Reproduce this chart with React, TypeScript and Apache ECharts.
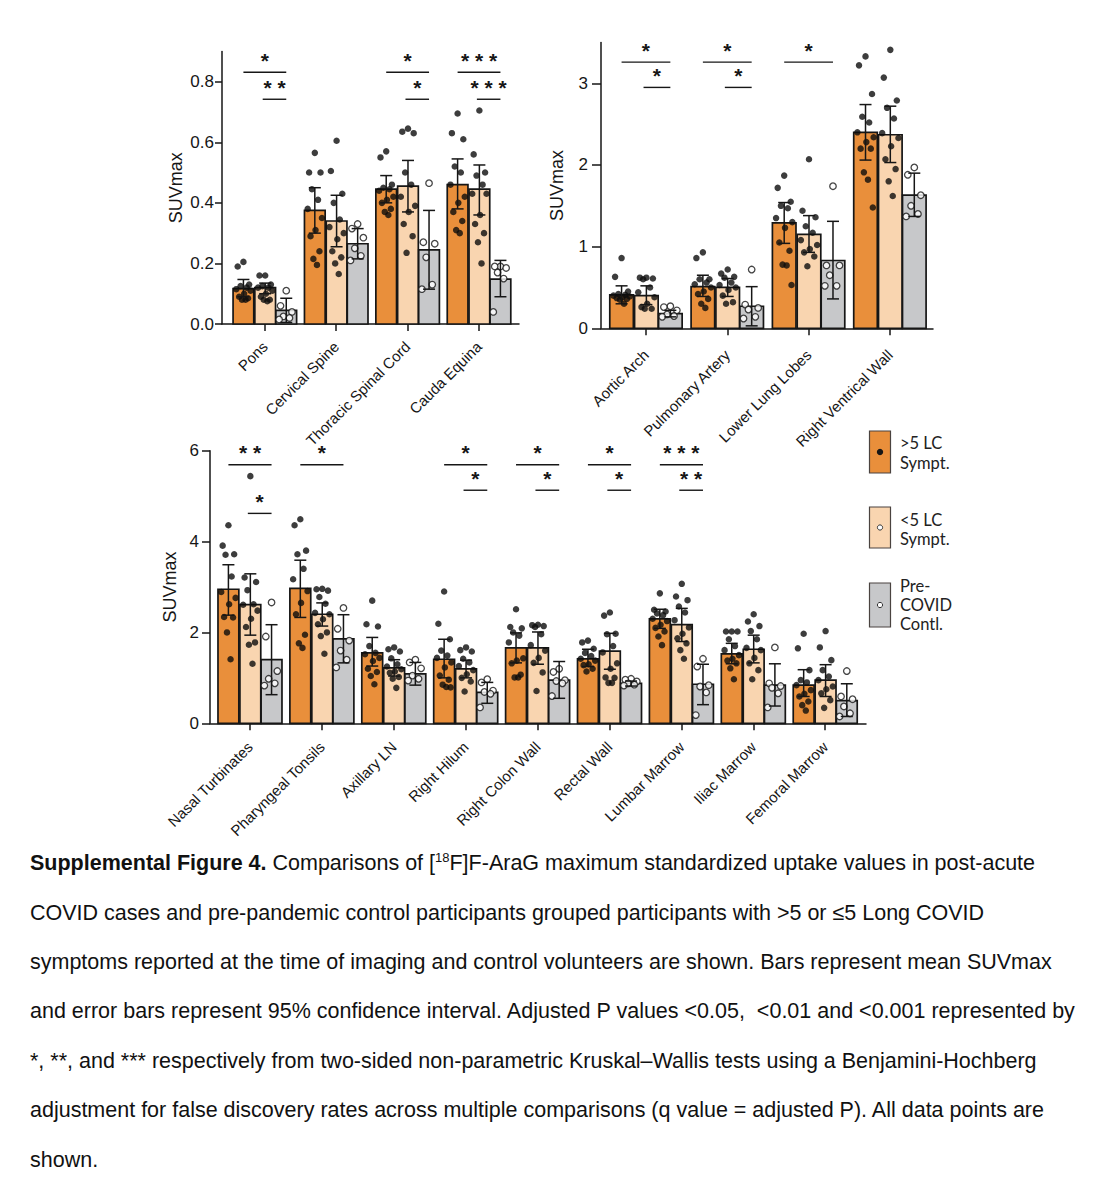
import React, { useEffect, useRef } from "react";
import * as echarts from "echarts";

const FONT = "'Liberation Sans', Arial, Helvetica, sans-serif";
const LEG_FONT = "Lato, 'Open Sans', sans-serif";
const INK = "#161616";
const COLORS = ["#E98F3B", "#F9D5B0", "#C7C8CA"];
const OFFSETS = [-0.3, 0.005, 0.3];
const BAR_W = 0.29;
const JITTER = [0, -0.08, 0.08, -0.04, 0.045, -0.1, 0.1, 0.01, -0.06, 0.065, -0.02, 0.03, 0.09];

// ---------- Panel A ----------
const catsA = ["Pons", "Cervical Spine", "Thoracic Spinal Cord", "Cauda Equina"];
const ticksA = [0, 0.2, 0.4, 0.6, 0.8];
const hiMeanA = [0.117, 0.375, 0.445, 0.46];
const hiLowA = [0.09, 0.30, 0.40, 0.38];
const hiHighA = [0.147, 0.45, 0.49, 0.545];
const loMeanA = [0.12, 0.34, 0.455, 0.445];
const loLowA = [0.10, 0.255, 0.37, 0.36];
const loHighA = [0.135, 0.425, 0.54, 0.525];
const ctMeanA = [0.045, 0.265, 0.245, 0.148];
const ctLowA = [0.005, 0.215, 0.115, 0.09];
const ctHighA = [0.085, 0.315, 0.375, 0.21];
const hiPtsA = [
  [0.205, 0.19, 0.13, 0.125, 0.12, 0.115, 0.11, 0.10, 0.09, 0.085, 0.08, 0.08],
  [0.565, 0.50, 0.50, 0.445, 0.41, 0.38, 0.35, 0.31, 0.29, 0.24, 0.215, 0.195],
  [0.57, 0.55, 0.46, 0.45, 0.445, 0.44, 0.42, 0.41, 0.40, 0.38, 0.37, 0.36],
  [0.695, 0.63, 0.61, 0.52, 0.50, 0.46, 0.42, 0.40, 0.37, 0.34, 0.31, 0.30],
];
const loPtsA = [
  [0.16, 0.16, 0.13, 0.125, 0.12, 0.12, 0.11, 0.10, 0.09, 0.08, 0.08, 0.075],
  [0.605, 0.505, 0.43, 0.40, 0.345, 0.32, 0.30, 0.28, 0.24, 0.22, 0.20, 0.165],
  [0.645, 0.635, 0.63, 0.50, 0.46, 0.42, 0.39, 0.37, 0.33, 0.29, 0.235],
  [0.705, 0.56, 0.50, 0.49, 0.46, 0.43, 0.43, 0.36, 0.33, 0.30, 0.27, 0.20],
];
const ctPtsA = [
  [0.11, 0.06, 0.04, 0.025, 0.02, 0.015],
  [0.33, 0.315, 0.285, 0.25, 0.225, 0.21],
  [0.465, 0.27, 0.265, 0.22, 0.13, 0.115],
  [0.19, 0.19, 0.185, 0.17, 0.15, 0.04],
];
// [category, from offset, to offset, y]
const bracketsA = [
  [0, -0.3, 0.3, 0.831], [0, -0.03, 0.3, 0.742],
  [2, -0.3, 0.3, 0.831], [2, -0.03, 0.3, 0.742],
  [3, -0.3, 0.3, 0.831], [3, -0.03, 0.3, 0.742],
];
const starsA = ["*", "* *", "*", "*", "* * *", "* * *"];

// ---------- Panel B ----------
const catsB = ["Aortic Arch", "Pulmonary Artery", "Lower Lung Lobes", "Right Ventrical Wall"];
const ticksB = [0, 1, 2, 3];
const hiMeanB = [0.41, 0.51, 1.29, 2.40];
const hiLowB = [0.30, 0.39, 1.04, 2.06];
const hiHighB = [0.52, 0.65, 1.54, 2.74];
const loMeanB = [0.40, 0.50, 1.15, 2.37];
const loLowB = [0.29, 0.39, 0.93, 2.03];
const loHighB = [0.52, 0.61, 1.38, 2.72];
const ctMeanB = [0.18, 0.27, 0.83, 1.63];
const ctLowB = [0.14, 0.03, 0.36, 1.37];
const ctHighB = [0.22, 0.51, 1.31, 1.90];
const hiPtsB = [
  [0.86, 0.63, 0.45, 0.42, 0.41, 0.40, 0.39, 0.38, 0.37, 0.36, 0.35, 0.30],
  [0.93, 0.86, 0.60, 0.60, 0.56, 0.54, 0.50, 0.45, 0.42, 0.36, 0.30, 0.25],
  [1.87, 1.72, 1.55, 1.50, 1.47, 1.35, 1.30, 1.23, 1.05, 0.95, 0.78, 0.77, 0.53],
  [3.33, 3.22, 2.87, 2.59, 2.52, 2.40, 2.34, 2.28, 2.20, 2.20, 1.91, 1.82, 1.48],
];
const loPtsB = [
  [0.62, 0.62, 0.61, 0.60, 0.50, 0.44, 0.38, 0.30, 0.26, 0.24, 0.24],
  [0.72, 0.67, 0.63, 0.62, 0.56, 0.53, 0.50, 0.47, 0.40, 0.32, 0.30],
  [2.07, 1.44, 1.36, 1.25, 1.17, 1.08, 1.02, 0.97, 0.93, 0.88, 0.76],
  [3.41, 3.07, 2.79, 2.70, 2.57, 2.39, 2.33, 2.23, 2.07, 1.95, 1.80, 1.62],
];
const ctPtsB = [
  [0.27, 0.26, 0.22, 0.17, 0.15, 0.14],
  [0.72, 0.29, 0.25, 0.23, 0.14, 0.12],
  [1.74, 0.77, 0.77, 0.65, 0.52, 0.52],
  [1.97, 1.88, 1.63, 1.50, 1.40, 1.37],
];
const bracketsB = [
  [0, -0.3, 0.3, 3.26], [0, -0.03, 0.3, 2.95],
  [1, -0.3, 0.3, 3.26], [1, -0.03, 0.3, 2.95],
  [2, -0.3, 0.3, 3.26],
];
const starsB = ["*", "*", "*", "*", "*"];

// ---------- Panel C ----------
const catsC = [
  "Nasal Turbinates", "Pharyngeal Tonsils", "Axillary LN", "Right Hilum", "Right Colon Wall",
  "Rectal Wall", "Lumbar Marrow", "Iliac Marrow", "Femoral Marrow",
];
const ticksC = [0, 2, 4, 6];
const hiMeanC = [2.95, 2.97, 1.55, 1.41, 1.66, 1.42, 2.30, 1.53, 0.84];
const hiLowC = [2.38, 2.33, 1.26, 1.00, 1.33, 1.25, 2.09, 1.31, 0.59];
const hiHighC = [3.49, 3.59, 1.89, 1.85, 1.99, 1.63, 2.51, 1.76, 1.18];
const loMeanC = [2.61, 2.40, 1.22, 1.20, 1.66, 1.59, 2.17, 1.63, 0.95];
const loLowC = [1.94, 2.14, 1.04, 1.00, 1.30, 1.19, 1.80, 1.33, 0.59];
const loHighC = [3.29, 2.65, 1.40, 1.39, 2.01, 1.98, 2.53, 1.94, 1.29];
const ctMeanC = [1.40, 1.86, 1.09, 0.68, 0.95, 0.88, 0.86, 0.84, 0.50];
const ctLowC = [0.63, 1.33, 0.84, 0.44, 0.55, 0.82, 0.41, 0.38, 0.15];
const ctHighC = [2.17, 2.39, 1.34, 0.90, 1.36, 0.93, 1.30, 1.31, 0.87];
const hiPtsC = [
  [4.36, 3.91, 3.72, 3.71, 3.23, 2.89, 2.76, 2.62, 2.34, 2.33, 2.00, 1.41],
  [4.49, 4.36, 3.80, 3.72, 3.40, 3.17, 2.91, 2.65, 2.40, 1.95, 1.76, 1.66],
  [2.70, 2.18, 2.13, 1.70, 1.55, 1.52, 1.44, 1.37, 1.20, 1.13, 1.04, 0.86],
  [2.90, 2.19, 1.85, 1.60, 1.49, 1.44, 1.34, 1.23, 1.05, 0.96, 0.85, 0.80, 0.79],
  [2.51, 2.12, 2.09, 2.00, 1.93, 1.78, 1.43, 1.38, 1.32, 1.07, 1.01, 1.01],
  [1.82, 1.78, 1.64, 1.55, 1.48, 1.42, 1.38, 1.30, 1.28, 1.20, 1.14],
  [2.86, 2.50, 2.46, 2.42, 2.38, 2.30, 2.25, 2.17, 2.10, 2.02, 1.91, 1.72],
  [2.02, 2.02, 2.02, 1.85, 1.70, 1.61, 1.50, 1.42, 1.38, 1.32, 1.21, 0.97],
  [1.97, 1.65, 1.17, 0.95, 0.90, 0.84, 0.73, 0.65, 0.59, 0.48, 0.40, 0.28],
];
const loPtsC = [
  [5.44, 3.21, 3.11, 2.93, 2.62, 2.61, 2.48, 2.30, 2.12, 1.78, 1.73, 1.31],
  [2.96, 2.95, 2.92, 2.78, 2.63, 2.43, 2.40, 2.29, 2.18, 2.00, 1.92, 1.53],
  [1.67, 1.63, 1.58, 1.43, 1.30, 1.25, 1.19, 1.14, 1.11, 1.02, 0.98, 0.78],
  [1.67, 1.61, 1.58, 1.42, 1.34, 1.26, 1.17, 1.08, 1.00, 0.92, 0.70],
  [2.17, 2.16, 2.14, 2.12, 1.96, 1.72, 1.60, 1.44, 1.33, 1.12, 0.71],
  [2.44, 2.37, 1.97, 1.96, 1.70, 1.56, 1.32, 1.20, 1.01, 1.00, 0.89, 0.89],
  [3.07, 2.79, 2.71, 2.57, 2.44, 2.27, 2.11, 1.97, 1.87, 1.76, 1.61, 1.42],
  [2.40, 2.24, 2.14, 2.03, 1.85, 1.66, 1.61, 1.44, 1.32, 1.17, 0.97],
  [2.03, 1.67, 1.39, 1.17, 1.03, 0.95, 0.81, 0.75, 0.66, 0.51, 0.34],
];
const ctPtsC = [
  [2.66, 1.91, 1.15, 0.98, 0.88, 0.83],
  [2.54, 2.08, 1.82, 1.60, 1.40, 1.23],
  [1.40, 1.34, 1.21, 1.05, 0.98, 0.94],
  [0.97, 0.90, 0.72, 0.69, 0.65, 0.35],
  [1.20, 1.13, 0.95, 0.93, 0.88, 0.60],
  [0.98, 0.96, 0.92, 0.88, 0.85, 0.83],
  [1.42, 1.25, 0.84, 0.81, 0.68, 0.18],
  [1.67, 0.88, 0.82, 0.78, 0.66, 0.35],
  [1.15, 0.59, 0.53, 0.37, 0.22, 0.15],
];
const bracketsC = [
  [0, -0.3, 0.3, 5.69], [0, -0.03, 0.3, 4.62],
  [1, -0.3, 0.3, 5.69],
  [3, -0.3, 0.3, 5.69], [3, -0.03, 0.3, 5.13],
  [4, -0.3, 0.3, 5.69], [4, -0.03, 0.3, 5.13],
  [5, -0.3, 0.3, 5.69], [5, -0.03, 0.3, 5.13],
  [6, -0.3, 0.3, 5.69], [6, -0.03, 0.3, 5.13],
];
const starsC = ["* *", "*", "*", "*", "*", "*", "*", "*", "*", "* * *", "* *"];

// ---------- Legend & caption ----------
const legendLines = [[">5 LC", "Sympt."], ["<5 LC", "Sympt."], ["Pre-", "COVID", "Contl."]];
const captionLines = [
  "{b|Supplemental Figure 4.} Comparisons of [{s|18}F]F-AraG maximum standardized uptake values in post-acute",
  "COVID cases and pre-pandemic control participants grouped participants with >5 or ≤5 Long COVID",
  "symptoms reported at the time of imaging and control volunteers are shown. Bars represent mean SUVmax",
  "and error bars represent 95% confidence interval. Adjusted P values <0.05,  <0.01 and <0.001 represented by",
  "*, **, and *** respectively from two-sided non-parametric Kruskal–Wallis tests using a Benjamini-Hochberg",
  "adjustment for false discovery rates across multiple comparisons (q value = adjusted P). All data points are",
  "shown.",
];

type Panel = {
  cats: string[];
  means: number[][];
  lows: number[][];
  highs: number[][];
  pts: number[][][];
  brackets: number[][];
  stars: string[];
};

const panels: Panel[] = [
  {
    cats: catsA, means: [hiMeanA, loMeanA, ctMeanA], lows: [hiLowA, loLowA, ctLowA],
    highs: [hiHighA, loHighA, ctHighA], pts: [hiPtsA, loPtsA, ctPtsA], brackets: bracketsA, stars: starsA,
  },
  {
    cats: catsB, means: [hiMeanB, loMeanB, ctMeanB], lows: [hiLowB, loLowB, ctLowB],
    highs: [hiHighB, loHighB, ctHighB], pts: [hiPtsB, loPtsB, ctPtsB], brackets: bracketsB, stars: starsB,
  },
  {
    cats: catsC, means: [hiMeanC, loMeanC, ctMeanC], lows: [hiLowC, loLowC, ctLowC],
    highs: [hiHighC, loHighC, ctHighC], pts: [hiPtsC, loPtsC, ctPtsC], brackets: bracketsC, stars: starsC,
  },
];

const gridDefs = [
  { left: 222, top: 51.4, width: 297, height: 272.6 },
  { left: 601, top: 42.5, width: 332, height: 285.8 },
  { left: 210, top: 450.7, width: 656, height: 272.6 },
];
const xRanges = [[-0.6, 3.56], [-0.553, 3.53], [-0.556, 8.567]];
const yMax = [0.9, 3.5, 6];
const yTicks = [ticksA, ticksB, ticksC];
const yFmt = [(v: number) => v.toFixed(1), (v: number) => String(v), (v: number) => String(v)];
const yTickLen = [7, 9, 8];
const yLabelMargin = [8, 13, 11];
const yNameGap = [37, 35, 26];
const xLabelMargin = [20, 24, 21];

function buildOption() {
  const lineStyle = { color: INK, width: 1.5 };
  const xAxis: any[] = [];
  const yAxis: any[] = [];
  const series: any[] = [];

  panels.forEach((p, pi) => {
    const catIdx = p.cats.map((_, i) => i);
    xAxis.push({
      type: "value", gridIndex: pi, min: xRanges[pi][0], max: xRanges[pi][1],
      axisLine: { show: true, onZero: false, lineStyle },
      axisTick: { show: true, customValues: catIdx, length: 7, lineStyle },
      axisLabel: {
        show: true, customValues: catIdx, rotate: 45, margin: xLabelMargin[pi],
        formatter: (v: number) => p.cats[Math.round(v)] ?? "",
        fontSize: 15, fontFamily: FONT, color: INK,
      },
      splitLine: { show: false },
    });
    yAxis.push({
      type: "value", gridIndex: pi, min: 0, max: yMax[pi],
      name: "SUVmax", nameLocation: "middle", nameRotate: 90, nameGap: yNameGap[pi],
      nameTextStyle: { fontSize: 18, fontFamily: FONT, color: INK },
      axisLine: { show: true, onZero: false, lineStyle },
      axisTick: { show: true, customValues: yTicks[pi], length: yTickLen[pi], lineStyle },
      axisLabel: {
        show: true, customValues: yTicks[pi], formatter: yFmt[pi],
        fontSize: 17, fontFamily: FONT, color: INK, margin: yLabelMargin[pi],
      },
      splitLine: { show: false },
    });

    for (let g = 0; g < 3; g++) {
      const off = OFFSETS[g];
      const rows = p.cats.map((_, i) => [i, p.means[g][i], p.lows[g][i], p.highs[g][i]]);
      // bars
      series.push({
        type: "custom", xAxisIndex: pi, yAxisIndex: pi, z: 2, silent: true,
        data: rows,
        renderItem: (params: any, api: any) => {
          const c = api.value(0);
          const m = api.value(1);
          const a = api.coord([c + off - BAR_W / 2, m]);
          const b = api.coord([c + off + BAR_W / 2, 0]);
          return {
            type: "rect",
            shape: { x: a[0], y: a[1], width: b[0] - a[0], height: b[1] - a[1] },
            style: { fill: COLORS[g], stroke: INK, lineWidth: 1.7 },
          };
        },
      });
      // points
      const pts: number[][] = [];
      p.pts[g].forEach((vals, ci) => {
        vals.forEach((v, k) => pts.push([ci + off + JITTER[k % JITTER.length], v]));
      });
      series.push({
        type: "scatter", xAxisIndex: pi, yAxisIndex: pi, z: 3, silent: true,
        symbol: "circle", symbolSize: 6.5,
        itemStyle: g === 2
          ? { color: "#ffffff", borderColor: INK, borderWidth: 1.3 }
          : { color: "#0d0d0d" },
        data: pts,
      });
      // error bars
      series.push({
        type: "custom", xAxisIndex: pi, yAxisIndex: pi, z: 4, silent: true,
        data: rows,
        renderItem: (params: any, api: any) => {
          const c = api.value(0);
          const lo = api.coord([c + off, api.value(2)]);
          const hi = api.coord([c + off, api.value(3)]);
          const st = { stroke: INK, lineWidth: 1.5 };
          const cap = 6;
          return {
            type: "group",
            children: [
              { type: "line", shape: { x1: lo[0], y1: lo[1], x2: hi[0], y2: hi[1] }, style: st },
              { type: "line", shape: { x1: lo[0] - cap, y1: lo[1], x2: lo[0] + cap, y2: lo[1] }, style: st },
              { type: "line", shape: { x1: hi[0] - cap, y1: hi[1], x2: hi[0] + cap, y2: hi[1] }, style: st },
            ],
          };
        },
      });
    }
    // significance brackets
    series.push({
      type: "custom", xAxisIndex: pi, yAxisIndex: pi, z: 5, silent: true,
      data: p.brackets,
      renderItem: (params: any, api: any) => {
        const c = api.value(0);
        const y = api.value(3);
        const a = api.coord([c + api.value(1), y]);
        const b = api.coord([c + api.value(2), y]);
        return {
          type: "group",
          children: [
            { type: "line", shape: { x1: a[0], y1: a[1], x2: b[0], y2: b[1] }, style: { stroke: INK, lineWidth: 1.4 } },
            {
              type: "text", x: (a[0] + b[0]) / 2, y: a[1] - 12,
              style: {
                text: p.stars[params.dataIndex], fontSize: 21, fontWeight: "bold", fontFamily: FONT, fill: INK,
                align: "center", verticalAlign: "middle",
              },
            },
          ],
        };
      },
    });
  });

  const legendTop = [431, 507, 583];
  const legendH = [42, 41, 44];
  const legendFirstY = [443, 520, 586];
  const legendStep = [20, 19, 19];
  const graphic: any[] = [];
  legendTop.forEach((t, i) => {
    graphic.push({
      type: "rect", x: 869.5, y: t, shape: { width: 21, height: legendH[i] },
      style: { fill: COLORS[i], stroke: "#4a4340", lineWidth: 1.2 },
    });
    graphic.push({
      type: "circle", x: 880, y: t + legendH[i] / 2, shape: { r: i === 0 ? 3.2 : 2.6 },
      style: i === 0 ? { fill: INK } : { fill: "#fff", stroke: "#333", lineWidth: 1 },
    });
    legendLines[i].forEach((ln, k) => {
      graphic.push({
        type: "text", x: 900, y: legendFirstY[i] + k * legendStep[i],
        style: {
          text: ln, fontSize: 16.5, fontFamily: LEG_FONT, fill: "#222",
          align: "left", verticalAlign: "middle",
        },
      });
    });
  });
  const capY = [863, 913, 962, 1011, 1061, 1110, 1160];
  captionLines.forEach((line, i) => {
    graphic.push({
      type: "text", x: 30, y: capY[i],
      style: {
        text: line, fontSize: 21.5, lineHeight: 25, fontFamily: FONT, fill: "#111",
        align: "left", verticalAlign: "middle",
        rich: {
          b: { fontSize: 21.5, lineHeight: 25, fontWeight: "bold", fontFamily: FONT, fill: "#111" },
          s: { fontSize: 13, lineHeight: 14, fontFamily: FONT, fill: "#111", verticalAlign: "top" },
        },
      },
    });
  });

  return {
    animation: false,
    backgroundColor: "#ffffff",
    grid: gridDefs.map((g) => ({ ...g, containLabel: false, outerBoundsMode: "none" })),
    xAxis,
    yAxis,
    series,
    graphic,
  };
}

export default function App() {
  const ref = useRef<HTMLDivElement>(null);
  useEffect(() => {
    if (!ref.current) return;
    const chart = echarts.init(ref.current, undefined, { renderer: "svg" });
    chart.setOption(buildOption() as any);
    return () => chart.dispose();
  }, []);
  return (
    <div
      ref={ref}
      style={{ position: "absolute", left: 0, top: 0, width: 1108, height: 1200, background: "#fff" }}
    />
  );
}
